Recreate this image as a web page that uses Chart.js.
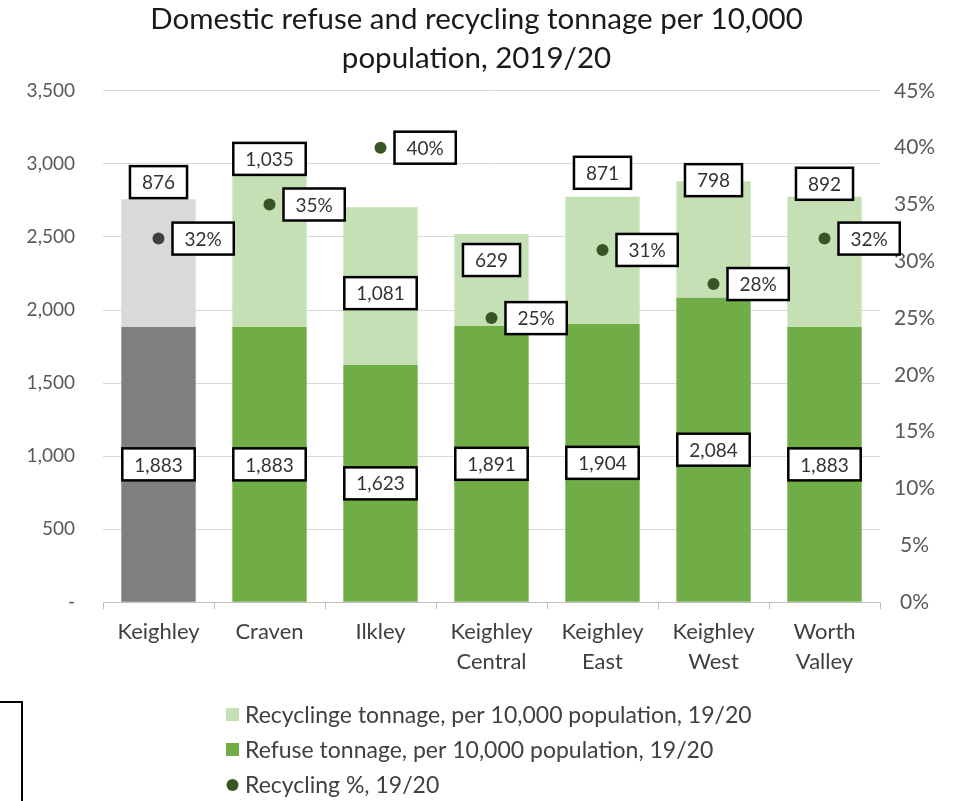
<!DOCTYPE html>
<html lang="en">
<head>
  <meta charset="UTF-8" />
  <title>Domestic refuse and recycling tonnage</title>
  <script src="https://cdn.jsdelivr.net/npm/chart.js"></script>
  <style>
    body { margin: 0; background: #fff; }
    #wrap { position: relative; width: 953px; height: 801px; overflow: hidden; }
    #corner {
      position: absolute; left: -4px; top: 701px;
      width: 23px; height: 110px; border: 2px solid #000;
    }
  </style>
</head>
<body>
  <div id="wrap">
    <canvas id="chart" width="953" height="801"></canvas>
    <div id="corner"></div>
  </div>

  <script>
    const categories = ["Keighley", "Craven", "Ilkley", ["Keighley", "Central"],
      ["Keighley", "East"], ["Keighley", "West"], ["Worth", "Valley"]];
    const refuse = [1883, 1883, 1623, 1891, 1904, 2084, 1883];
    const recycling = [876, 1035, 1081, 629, 871, 798, 892];
    const recyclingPct = [32, 35, 40, 25, 31, 28, 32];

    const FONT = "Lato, 'Open Sans', sans-serif";
    Chart.defaults.font.family = FONT;
    Chart.defaults.color = "#595959";

    // Keighley (district total) is shown in greys, the areas in greens
    const perBar = (first, rest) => categories.map((c, i) => i === 0 ? first : rest);

    const fmt = v => v.toLocaleString("en-US");

    function drawBox(ctx, text, x, y, anchor) {
      const w = ctx.measureText(text).width + 24;
      const h = 32;
      const x0 = anchor === "left" ? x : x - w / 2;
      ctx.fillStyle = "#fff";
      ctx.fillRect(x0, y - h / 2, w, h);
      ctx.lineWidth = 2.5;
      ctx.strokeStyle = "#000";
      ctx.strokeRect(x0, y - h / 2, w, h);
      ctx.fillStyle = "#333";
      ctx.textAlign = "center";
      ctx.textBaseline = "middle";
      ctx.fillText(text, x0 + w / 2, y + 1);
    }

    const boxLabels = {
      id: "boxLabels",
      afterDatasetsDraw(chart, args, opts) {
        const ctx = chart.ctx;
        const refMeta = chart.getDatasetMeta(0);
        const recMeta = chart.getDatasetMeta(1);
        const pctMeta = chart.getDatasetMeta(2);
        ctx.save();
        ctx.font = "19px " + FONT;
        categories.forEach((c, i) => {
          const ref = refMeta.data[i], rec = recMeta.data[i], pt = pctMeta.data[i];
          drawBox(ctx, fmt(refuse[i]), ref.x, (ref.y + ref.base) / 2, "center");
          drawBox(ctx, fmt(recycling[i]), rec.x, rec.y + opts.topShift[i], "center");
          drawBox(ctx, recyclingPct[i] + "%", pt.x + 14, pt.y, "left");
        });
        ctx.restore();
      }
    };

    // legend in a left-aligned column under the axis
    const sideLegend = {
      id: "sideLegend",
      afterDraw(chart, args, opts) {
        const ctx = chart.ctx;
        const ds = chart.data.datasets;
        const items = [
          { label: ds[1].label, color: ds[1].backgroundColor[1], shape: "square" },
          { label: ds[0].label, color: ds[0].backgroundColor[1], shape: "square" },
          { label: ds[2].label, color: ds[2].pointBackgroundColor[1], shape: "circle" }
        ];
        ctx.save();
        ctx.font = "23px " + FONT;
        ctx.textBaseline = "middle";
        ctx.textAlign = "left";
        items.forEach((it, k) => {
          const y = opts.top + k * opts.rowHeight;
          ctx.fillStyle = it.color;
          if (it.shape === "square") {
            ctx.fillRect(opts.left, y - 7, 13, 13);
          } else {
            ctx.beginPath();
            ctx.arc(opts.left + 6.5, y, 6, 0, Math.PI * 2);
            ctx.fill();
          }
          ctx.fillStyle = "#404040";
          ctx.fillText(it.label, opts.left + 19, y + 1);
        });
        ctx.restore();
      }
    };

    new Chart(document.getElementById("chart"), {
      type: "bar",
      data: {
        labels: categories,
        datasets: [
          {
            label: "Refuse tonnage, per 10,000 population, 19/20",
            data: refuse,
            backgroundColor: perBar("#7f7f7f", "#70ad47"),
            stack: "t",
            order: 1
          },
          {
            label: "Recyclinge tonnage, per 10,000 population, 19/20",
            data: recycling,
            backgroundColor: perBar("#d9d9d9", "#c5e0b4"),
            stack: "t",
            order: 1
          },
          {
            type: "line",
            label: "Recycling %, 19/20",
            data: recyclingPct,
            yAxisID: "y1",
            showLine: false,
            pointRadius: 6,
            pointHoverRadius: 6,
            pointBorderWidth: 0,
            pointBackgroundColor: perBar("#404040", "#375623"),
            order: 0
          }
        ]
      },
      options: {
        responsive: false,
        animation: false,
        categoryPercentage: 1,
        barPercentage: 0.67,
        layout: { padding: { top: 0, bottom: 116 } },
        scales: {
          x: {
            stacked: true,
            grid: { drawOnChartArea: false, color: "#bfbfbf", tickLength: 7 },
            border: { color: "#bfbfbf" },
            ticks: { color: "#404040", font: { size: 22, lineHeight: 1.36 }, padding: 8, maxRotation: 0 }
          },
          y: {
            stacked: true,
            min: 0,
            max: 3500,
            afterFit: s => { s.width = 103; },
            grid: { color: "#d9d9d9", drawTicks: false },
            border: { display: false },
            ticks: {
              stepSize: 500,
              padding: 28,
              font: { size: 19 },
              callback: v => v === 0 ? "-" : fmt(v)
            }
          },
          y1: {
            position: "right",
            min: 0,
            max: 45,
            afterFit: s => { s.width = 73; },
            grid: { display: false, drawTicks: false },
            border: { display: false },
            ticks: { stepSize: 5, padding: 14, crossAlign: "center", font: { size: 21 }, callback: v => v + "%" }
          }
        },
        plugins: {
          legend: { display: false },
          tooltip: { enabled: false },
          title: {
            display: true,
            text: ["Domestic refuse and recycling tonnage per 10,000", "population, 2019/20"],
            color: "#1a1a1a",
            font: { size: 29.5, weight: "normal", lineHeight: 1.32 },
            padding: { top: 0, bottom: 13 }
          },
          boxLabels: { topShift: [-17, -17, 86, 26, -24, -1, -13] },
          sideLegend: { left: 226, top: 715, rowHeight: 35 }
        }
      },
      plugins: [boxLabels, sideLegend]
    });
  </script>
</body>
</html>
